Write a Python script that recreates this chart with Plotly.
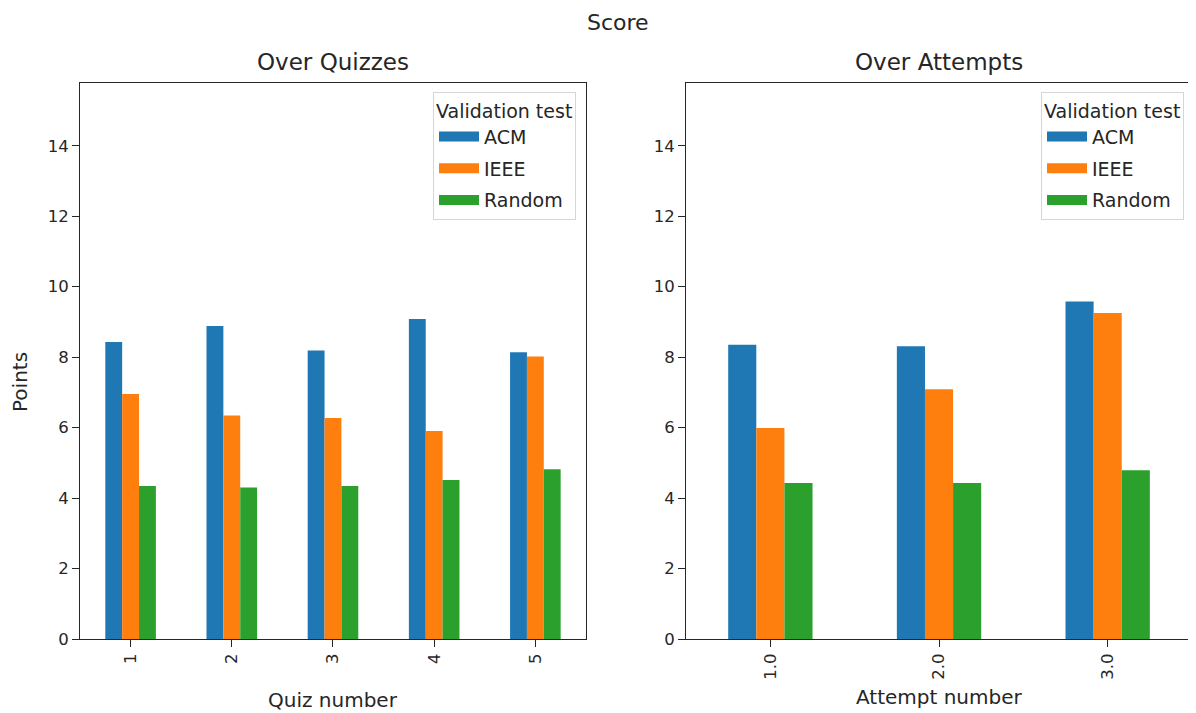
import plotly.graph_objects as go
from plotly.subplots import make_subplots

series = ["ACM", "IEEE", "Random"]
colors = ["#1f77b4", "#ff7f0e", "#2ca02c"]

quiz_labels = ["1", "2", "3", "4", "5"]
quiz_acm = [8.43, 8.88, 8.19, 9.08, 8.14]
quiz_ieee = [6.95, 6.34, 6.27, 5.90, 8.02]
quiz_random = [4.34, 4.30, 4.34, 4.51, 4.82]

attempt_labels = ["1.0", "2.0", "3.0"]
attempt_acm = [8.35, 8.31, 9.58]
attempt_ieee = [5.99, 7.09, 9.25]
attempt_random = [4.43, 4.43, 4.79]

FONT = "DejaVu Sans"
BLACK = "#262626"

# page geometry (figure is offset by the 8px body margin)
FIG_W, FIG_H = 1188, 705
L, R, T, B = 72, 4, 75, 74
PW = FIG_W - L - R
PH = FIG_H - T - B

def px_x(x):  # figure pixel -> paper x
    return (x - L) / PW

def px_y(y):  # figure pixel -> paper y
    return (FIG_H - B - y) / PH

fig = make_subplots(rows=1, cols=2)

for name, col, vals in zip(series, colors, [quiz_acm, quiz_ieee, quiz_random]):
    fig.add_trace(go.Bar(x=quiz_labels, y=vals, name=name, marker=dict(color=col, line=dict(width=0)),
                         showlegend=False), row=1, col=1)
    fig.add_trace(go.Scatter(x=[None], y=[None], mode="lines", name=name, legendgroup="q" + name,
                             line=dict(color=col, width=15), legend="legend", hoverinfo="skip"), row=1, col=1)
for name, col, vals in zip(series, colors, [attempt_acm, attempt_ieee, attempt_random]):
    fig.add_trace(go.Bar(x=attempt_labels, y=vals, name=name, marker=dict(color=col, line=dict(width=0)),
                         showlegend=False), row=1, col=2)
    fig.add_trace(go.Scatter(x=[None], y=[None], mode="lines", name=name, legendgroup="a" + name,
                             line=dict(color=col, width=15), legend="legend2", hoverinfo="skip"), row=1, col=2)

axis_common = dict(showline=True, linecolor=BLACK, linewidth=1, mirror=True, ticks="outside",
                   ticklen=7, tickcolor=BLACK, showgrid=False, zeroline=False,
                   tickfont=dict(family=FONT, size=16.5, color=BLACK))

fig.update_xaxes(**axis_common, tickangle=-90, type="category")
fig.update_yaxes(**axis_common, range=[0, 15.78], tickvals=[0, 2, 4, 6, 8, 10, 12, 14])
fig.update_layout(
    xaxis=dict(domain=[0, 0.455], range=[-0.5, 4.5]),
    xaxis2=dict(domain=[0.545, 1.0], range=[-0.5, 2.5]),
)

legend_common = dict(
    title=dict(text="Validation test", font=dict(family=FONT, size=19, color=BLACK)),
    font=dict(family=FONT, size=19, color=BLACK),
    bgcolor="white", bordercolor="#d6d6d6", borderwidth=1,
    xanchor="right", yanchor="top", y=px_y(92 - 8), tracegroupgap=4, itemwidth=40,
)
fig.update_layout(
    barmode="group", bargap=0.5, bargroupgap=0,
    plot_bgcolor="white", paper_bgcolor="white",
    width=FIG_W, height=FIG_H,
    margin=dict(l=L, r=R, t=T, b=B),
    legend=dict(**legend_common, x=px_x(576 - 8)),
    legend2=dict(**legend_common, x=px_x(1184 - 8)),
    font=dict(family=FONT, color=BLACK),
)

def label(text, x, y, size, angle=0):
    fig.add_annotation(text=text, x=px_x(x - 8), y=px_y(y - 8), xref="paper", yref="paper",
                       showarrow=False, xanchor="center", yanchor="middle", textangle=angle,
                       font=dict(family=FONT, size=size, color=BLACK))

label("Score", 618, 22, 22)
label("Over Quizzes", 333, 62, 23)
label("Over Attempts", 939, 62, 23)
label("Quiz number", 333, 700, 20)
label("Attempt number", 939, 697, 20)
label("Points", 20, 382, 20, angle=-90)

fig.write_html("out.html")
